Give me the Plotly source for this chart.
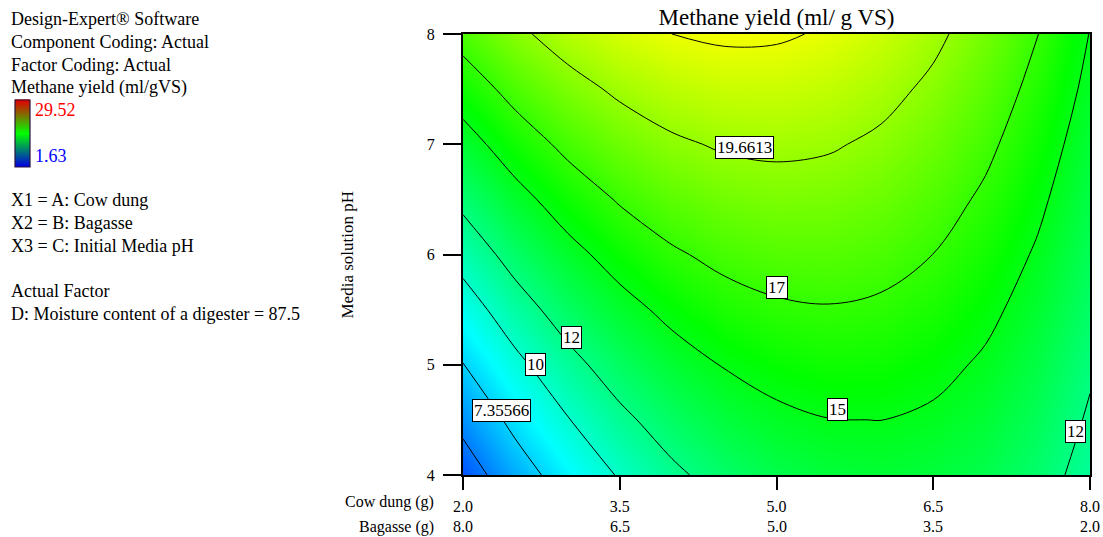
import plotly.graph_objects as go

# ---------------- data ----------------
cow_dung = [2.0, 2.5, 3.0, 3.5, 4.0, 4.5, 5.0, 5.5, 6.0, 6.5, 7.0, 7.5, 8.0]
media_ph = [4.0, 4.5, 5.0, 5.5, 6.0, 6.5, 7.0, 7.5, 8.0]
# methane yield (ml/g VS), rows = pH, columns = cow dung
yield_y4_0 = [3.88, 6.30, 8.40, 10.17, 11.62, 12.74, 13.54, 14.01, 14.16, 13.98, 13.48, 12.65, 11.40]
yield_y4_5 = [5.59, 7.91, 9.90, 11.56, 12.90, 13.92, 14.61, 14.97, 15.01, 14.73, 14.12, 13.18, 11.80]
yield_y5_0 = [7.30, 9.51, 11.39, 12.95, 14.19, 15.09, 15.68, 15.94, 15.87, 15.48, 14.76, 13.72, 12.22]
yield_y5_5 = [9.02, 11.12, 12.90, 14.35, 15.48, 16.28, 16.75, 16.90, 16.73, 16.23, 15.41, 14.26, 12.78]
yield_y6_0 = [10.75, 12.74, 14.41, 15.75, 16.77, 17.46, 17.83, 17.88, 17.59, 16.99, 16.06, 14.80, 13.22]
yield_y6_5 = [12.48, 14.36, 15.92, 17.16, 18.07, 18.66, 18.92, 18.85, 18.47, 17.75, 16.71, 15.35, 13.66]
yield_y7_0 = [14.21, 15.99, 17.44, 18.57, 19.38, 19.86, 20.01, 19.84, 19.34, 18.52, 17.38, 15.90, 14.11]
yield_y7_5 = [15.95, 17.62, 18.97, 19.99, 20.69, 21.06, 21.10, 20.83, 20.22, 19.30, 18.04, 16.46, 14.56]
yield_y8_0 = [17.69, 19.26, 20.50, 21.41, 22.00, 22.27, 22.21, 21.82, 21.11, 20.07, 18.71, 17.03, 14.95]

contour_levels = [5, 7.35566, 10, 12, 15, 17, 19.6613, 22]
# labelled contours: (text, cow dung, pH)
label_text = ["7.35566", "10", "12", "15", "17", "19.6613", "12"]
label_x = [2.368, 2.696, 3.038, 5.582, 5.0, 4.698, 7.861]
label_y = [4.581, 5.0, 5.248, 4.598, 5.705, 6.974, 4.395]

x_tickvals = [2.0, 3.5, 5.0, 6.5, 8.0]
cow_ticks = ["2.0", "3.5", "5.0", "6.5", "8.0"]
bagasse_ticks = ["8.0", "6.5", "5.0", "3.5", "2.0"]
ph_ticks = [4, 5, 6, 7, 8]

y_min, y_max = 1.63, 29.52

z = [yield_y4_0, yield_y4_5, yield_y5_0, yield_y5_5, yield_y6_0,
     yield_y6_5, yield_y7_0, yield_y7_5, yield_y8_0]

# ---------------- layout helpers ----------------
W, H = 1103, 537
ML, MR, MT, MB = 463, 13, 34, 62
PW, PH = W - ML - MR, H - MT - MB
FONT = "Liberation Serif"


def px(xp):
    return (xp - ML) / PW


def py(yp):
    return (H - MB - yp) / PH


main_scale = [[0.0, "rgb(0,0,255)"], [0.25, "rgb(0,255,255)"], [0.5, "rgb(0,255,0)"],
              [0.75, "rgb(255,255,0)"], [1.0, "rgb(255,0,0)"]]

fig = go.Figure()

fig.add_trace(go.Heatmap(
    x=cow_dung, y=media_ph, z=z, zmin=y_min, zmax=y_max,
    colorscale=main_scale, zsmooth="best", showscale=False, hoverinfo="skip"))

for lv in contour_levels:
    fig.add_trace(go.Contour(
        x=cow_dung, y=media_ph, z=z, autocontour=False,
        contours=dict(start=lv, end=lv, size=1, coloring="none", showlabels=False),
        line=dict(color="black", width=1, smoothing=1),
        showscale=False, hoverinfo="skip"))

# ---- small legend colour bar (blue -> green -> red), drawn as thin strips ----
shapes = []
bar_top, bar_bot, bar_l, bar_r = 100.0, 167.0, 15.0, 30.0
n_strips = 67
for i in range(n_strips):
    t = i / (n_strips - 1)           # 0 at bottom, 1 at top
    if t < 0.5:
        f = t / 0.5
        r, g, b = 0, int(round(255 * f)), int(round(225 * (1 - f)))
    else:
        f = (t - 0.5) / 0.5
        r, g, b = int(round(225 * f)), int(round(255 * (1 - f))), 0
    y1 = bar_bot - i * (bar_bot - bar_top) / n_strips
    y0 = y1 - (bar_bot - bar_top) / n_strips - 0.6
    shapes.append(dict(type="rect", xref="paper", yref="paper", layer="above",
                       x0=px(bar_l), x1=px(bar_r), y0=py(y1), y1=py(y0),
                       line=dict(width=0), fillcolor=f"rgb({r},{g},{b})"))
shapes.append(dict(type="rect", xref="paper", yref="paper", layer="above",
                   x0=px(bar_l), x1=px(bar_r), y0=py(bar_bot), y1=py(bar_top),
                   line=dict(width=1.2, color="rgb(40,20,60)"), fillcolor="rgba(0,0,0,0)"))

annotations = []
for t, lx, ly in zip(label_text, label_x, label_y):
    annotations.append(dict(x=lx, y=ly, xref="x", yref="y", text=t, showarrow=False,
                            font=dict(family=FONT, size=17, color="black"),
                            bgcolor="white", bordercolor="black", borderwidth=1, borderpad=1))

# second row of x tick labels (bagasse)
for xv, bt in zip(x_tickvals, bagasse_ticks):
    annotations.append(dict(x=xv, y=0, xref="x", yref="paper", yshift=-(526.7 - (H - MB)),
                            yanchor="middle", xanchor="center", text=bt, showarrow=False,
                            font=dict(family=FONT, size=16, color="black")))

annotations.append(dict(x=px(436), y=0, xref="paper", yref="paper", yshift=-(501.7 - (H - MB)),
                        xanchor="right", yanchor="middle", text="Cow dung (g)", showarrow=False,
                        font=dict(family=FONT, size=16, color="black")))
annotations.append(dict(x=px(436), y=0, xref="paper", yref="paper", yshift=-(526.7 - (H - MB)),
                        xanchor="right", yanchor="middle", text="Bagasse (g)", showarrow=False,
                        font=dict(family=FONT, size=16, color="black")))

# y-axis title
annotations.append(dict(x=px(347), y=0.5, xref="paper", yref="paper", textangle=-90,
                        xanchor="center", yanchor="middle", text="Media solution pH",
                        showarrow=False, font=dict(family=FONT, size=17, color="black")))

# left information text
info_lines = [
    ("Design-Expert\u00ae Software", 19.3),
    ("Component Coding: Actual", 42.3),
    ("Factor Coding: Actual", 65.0),
    ("Methane yield (ml/gVS)", 87.5),
    ("X1 = A: Cow dung", 200.0),
    ("X2 = B: Bagasse", 222.8),
    ("X3 = C: Initial Media pH", 246.0),
    ("Actual Factor", 291.0),
    ("D: Moisture content of a digester = 87.5", 313.5),
]
for txt, yy in info_lines:
    annotations.append(dict(x=px(9), y=py(yy), xref="paper", yref="paper", xanchor="left",
                            yanchor="middle", text=txt, showarrow=False,
                            font=dict(family=FONT, size=18, color="black")))

annotations.append(dict(x=px(33), y=py(109.5), xref="paper", yref="paper", xanchor="left",
                        yanchor="middle", text="29.52", showarrow=False,
                        font=dict(family=FONT, size=18, color="rgb(255,0,0)")))
annotations.append(dict(x=px(33), y=py(155.5), xref="paper", yref="paper", xanchor="left",
                        yanchor="middle", text="1.63", showarrow=False,
                        font=dict(family=FONT, size=18, color="rgb(0,0,255)")))

fig.update_layout(
    width=W, height=H,
    margin=dict(l=ML, r=MR, t=MT, b=MB, pad=0, autoexpand=False),
    paper_bgcolor="white", plot_bgcolor="white",
    font=dict(family=FONT, size=16, color="black"),
    title=dict(text="Methane yield (ml/ g VS)", x=0.5, xref="paper", xanchor="center",
               y=1 - 17 / H, yref="container", yanchor="middle",
               font=dict(family=FONT, size=23, color="black")),
    showlegend=False,
    annotations=annotations,
    shapes=shapes,
)

fig.update_xaxes(range=[2, 8], tickvals=x_tickvals, ticktext=cow_ticks,
                 ticks="outside", ticklen=13, tickwidth=1.5, tickcolor="black",
                 showline=True, linecolor="black", linewidth=2, mirror=True,
                 showgrid=False, zeroline=False, ticklabelstandoff=3,
                 tickfont=dict(family=FONT, size=16, color="black"))
fig.update_yaxes(range=[4, 8], tickvals=ph_ticks,
                 ticks="outside", ticklen=18, tickwidth=1.5, tickcolor="black",
                 showline=True, linecolor="black", linewidth=2, mirror=True,
                 showgrid=False, zeroline=False, ticklabelstandoff=5,
                 tickfont=dict(family=FONT, size=16, color="black"))

fig.write_html("out.html")
